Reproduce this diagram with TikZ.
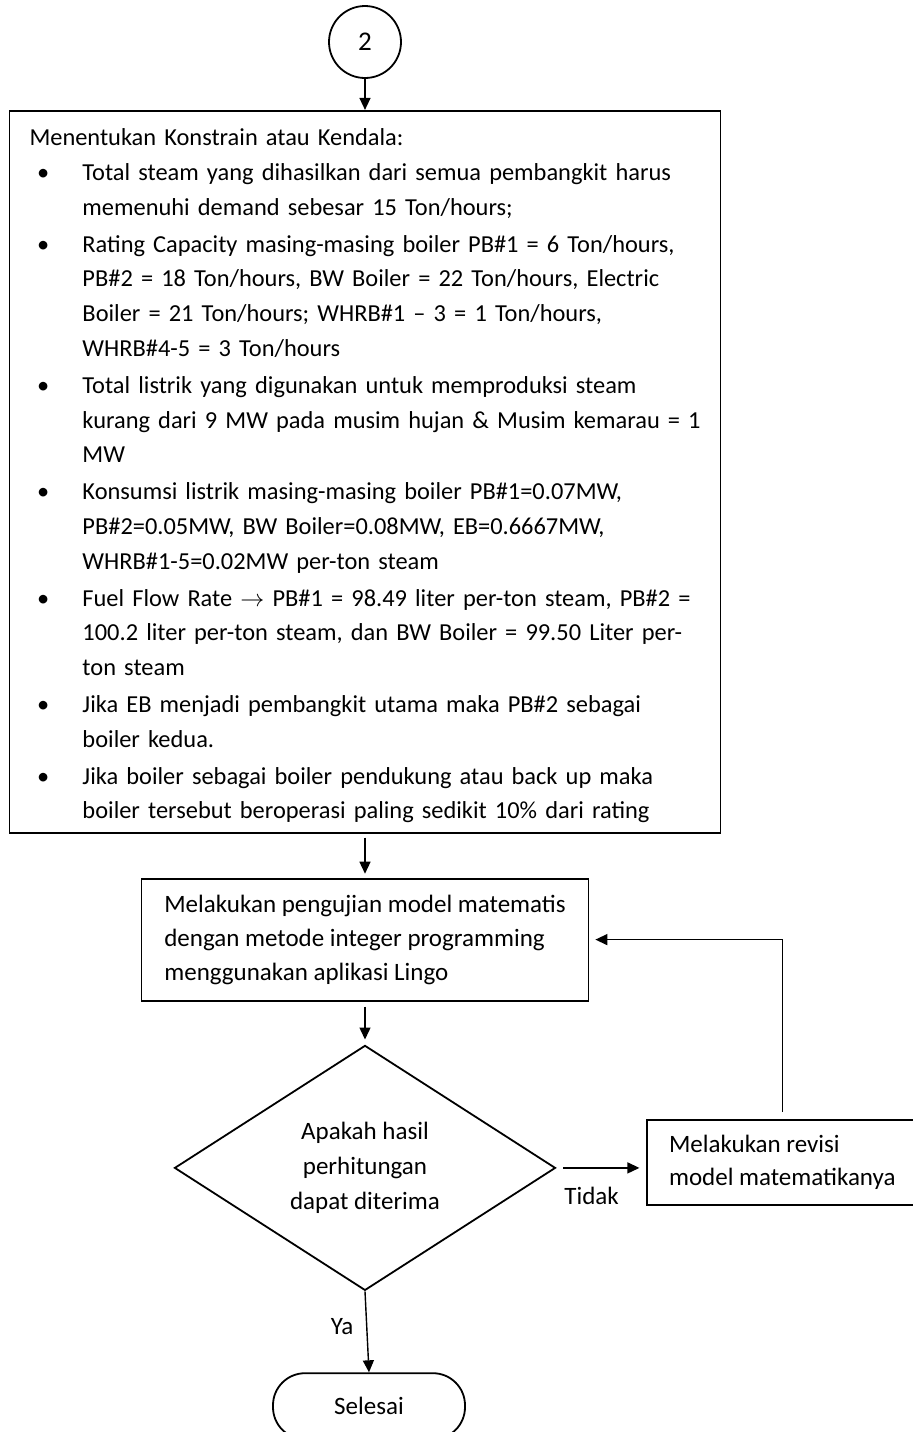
\documentclass[tikz,border=0pt]{standalone}
\usepackage{fontspec}
\setmainfont{Carlito}
\usepackage{tikz}
\usetikzlibrary{shapes.geometric, arrows.meta, positioning}
\tikzstyle{arrow} = [line width=0.7pt,-{Triangle[length=6pt,width=5.5pt]}]
\tikzstyle{process} = [rectangle, draw, line width=0.9pt, align=left]
\tikzstyle{decision} = [diamond, draw, line width=0.9pt, align=center, inner sep=0pt]
\tikzstyle{terminal} = [rectangle, rounded corners=16pt, draw, line width=0.9pt]
\tikzstyle{connector} = [circle, draw, line width=0.9pt, minimum size=36pt, inner sep=0pt]
\newlength{\kind}
\setlength{\kind}{26.5pt}
\newcommand{\kb}[1]{\mbox{\makebox[\kind][l]{\hspace{3.8pt}\textbullet}#1}}
\newcommand{\kc}[1]{\mbox{\hspace*{\kind}#1}}

\begin{document}
\begin{tikzpicture}[font=\fontsize{12.5}{17}\selectfont]
    \useasboundingbox (0,0) rectangle (456pt,-716pt);
    \node[connector, font=\fontsize{13.5}{16}\selectfont] (c2) at (182.5pt,-21pt) {2};
    \node[process, below=15.5pt of c2, text width=335.5pt, inner xsep=10pt, inner ysep=0pt, minimum height=361pt, font=\fontsize{12.2}{17.4}\selectfont] (kons) {\rule{0pt}{12.5pt}Menentukan Konstrain atau Kendala:\\
        \kb{Total steam yang dihasilkan dari semua pembangkit harus}\\
        \kc{memenuhi demand sebesar 15 Ton/hours;}\\[1pt]
        \kb{Rating Capacity masing-masing boiler PB\#1 = 6 Ton/hours,}\\
        \kc{PB\#2 = 18 Ton/hours, BW Boiler = 22 Ton/hours, Electric}\\
        \kc{Boiler = 21 Ton/hours; WHRB\#1 – 3 = 1 Ton/hours,}\\
        \kc{WHRB\#4-5 = 3 Ton/hours}\\[1pt]
        \kb{Total listrik yang digunakan untuk memproduksi steam}\\
        \kc{kurang dari 9 MW pada musim hujan \& Musim kemarau = 1}\\
        \kc{MW}\\[1pt]
        \kb{Konsumsi listrik masing-masing boiler PB\#1=0.07MW,}\\
        \kc{PB\#2=0.05MW, BW Boiler=0.08MW, EB=0.6667MW,}\\
        \kc{WHRB\#1-5=0.02MW per-ton steam}\\[1pt]
        \kb{Fuel Flow Rate $\rightarrow$ PB\#1 = 98.49 liter per-ton steam, PB\#2 =}\\
        \kc{100.2 liter per-ton steam, dan BW Boiler = 99.50 Liter per-}\\
        \kc{ton steam}\\[1pt]
        \kb{Jika EB menjadi pembangkit utama maka PB\#2 sebagai}\\
        \kc{boiler kedua.}\\[1pt]
        \kb{Jika boiler sebagai boiler pendukung atau back up maka}\\
        \kc{boiler tersebut beroperasi paling sedikit 10\% dari rating}};
    \node[process, below=22pt of kons, minimum width=223.5pt, minimum height=61pt] (proc) {Melakukan pengujian model matematis\\ dengan metode integer programming\\ menggunakan aplikasi Lingo};
    \node[decision, below=21.5pt of proc, minimum width=190.5pt, minimum height=122.5pt, font=\fontsize{12.5}{17.5}\selectfont] (dec) {Apakah hasil\\ perhitungan\\ dapat diterima};
    \node[process, right=45pt of dec, yshift=2.75pt, minimum width=135pt, minimum height=42.5pt, font=\fontsize{12.5}{16.5}\selectfont] (rev) {Melakukan revisi\\ model matematikanya};
    \node[terminal, below=40.5pt of dec, xshift=2pt, minimum width=96pt, minimum height=33pt] (term) {Selesai};

    \draw[arrow] (c2) -- (kons);
    \draw[arrow, shorten <=2pt, shorten >=2pt] (kons) -- (proc);
    \draw[arrow, shorten <=2.5pt, shorten >=2.5pt] (proc) -- (dec);
    \draw[arrow, shorten >=3.5pt] ([xshift=3.5pt]dec.east) -- (rev.west |- dec.east) node[pos=.34, below=6pt] {Tidak};
    \draw[arrow, shorten <=3.5pt] (rev.north) |- ([xshift=3pt]proc.east);
    \draw[arrow] (dec.south) -- (term.north) node[pos=.44, left=3pt] {Ya};
\end{tikzpicture}
\end{document}
